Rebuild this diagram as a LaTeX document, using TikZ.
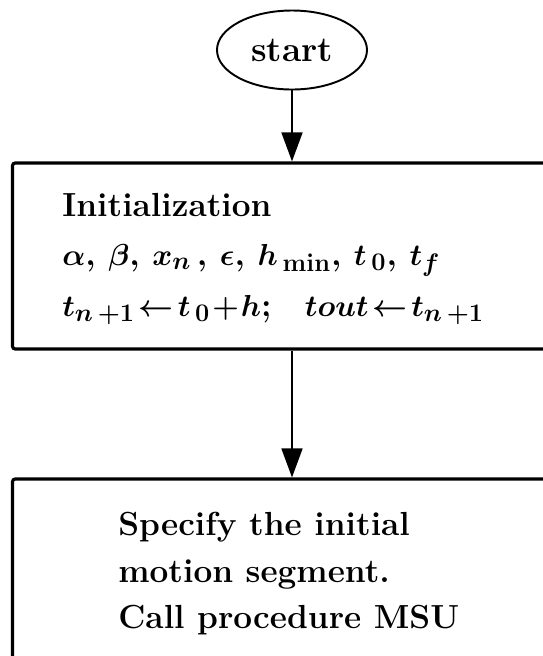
\documentclass[tikz,border=0pt]{standalone}
\usepackage{amsmath,amssymb}
\usetikzlibrary{arrows.meta, positioning, shapes.geometric}

\begin{document}
\begin{tikzpicture}[>={Triangle[width=4.2mm, length=5.8mm]},
    box/.style={draw, line width=1.8pt, rounded corners=1.5pt, minimum width=10.95cm, inner sep=0pt},
    flow/.style={->, line width=0.9pt},
    txt/.style={font=\fontsize{19}{23}\selectfont\bfseries\boldmath,
      anchor=base west, inner sep=0pt}]
  \useasboundingbox (0,0) rectangle (10.84,-13.12);

  % start terminal
  \node[draw, ellipse, line width=1.1pt, minimum width=3.0cm, minimum height=1.58cm,
    inner sep=0pt, font=\fontsize{20}{24}\selectfont\bfseries] (start) at (5.84,-1.0) {start};

  % initialization box
  \node[box, minimum height=3.72cm] (init) at (5.725,-5.12) {};
  \node[txt] (initA) at (1.24,-4.32) {Initialization};
  \node[txt] (initB) at (1.24,-5.30)
    {$\alpha$, $\beta$, $x_n$\,, $\epsilon$, $h_{\,\mathbf{min}}$, $t_{\,0}$, $t_f$};
  \node[txt] (initC) at (1.24,-6.32)
    {$t_{n\,+1}\!\leftarrow\! t_{\,0}\!+\!h$;\quad $tout\!\leftarrow\! t_{n\,+1}$};

  % motion segment box
  \node[box, minimum height=4.02cm] (seg) at (5.725,-11.59) {};
  \node[txt] (segA) at (2.36,-10.70) {Specify the initial};
  \node[txt] (segB) at (2.36,-11.64) {motion segment.};
  \node[txt] (segC) at (2.36,-12.56) {Call procedure MSU};

  % connectors
  \draw[flow] (start.south) -- (start.south |- init.north);
  \draw[flow] (init.south -| start.south) -- (seg.north -| start.south);
\end{tikzpicture}
\end{document}
